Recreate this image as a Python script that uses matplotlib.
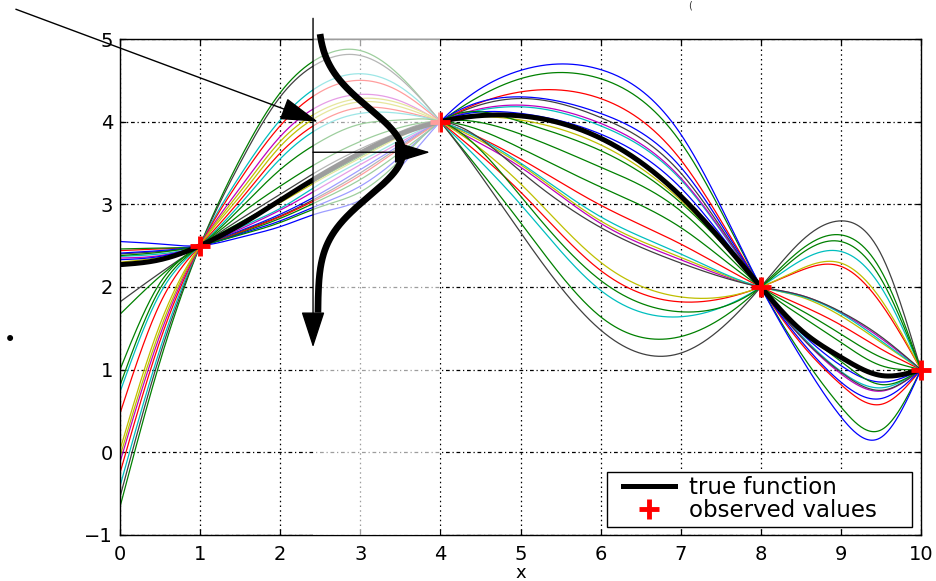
import numpy as np
import matplotlib
matplotlib.use("Agg")
import matplotlib.pyplot as plt
from matplotlib.lines import Line2D
from matplotlib.legend_handler import HandlerLine2D

# ---------------- data ----------------
x_knots = [0, 0.5, 1, 1.5, 2, 2.5, 3, 3.5, 4, 5, 6, 7, 8, 8.5, 9, 9.5, 10]

true_y = [2.27, 2.33, 2.5, 2.75, 3.05, 3.35, 3.62, 3.85, 4.0,
          4.07, 3.8, 3.1, 2.0, 1.48, 1.15, 0.93, 1.0]

obs_x = [1, 4, 8, 10]
obs_y = [2.5, 4.0, 2.0, 1.0]

sample_colors = ['g', 'k', 'c', 'r', 'm', 'y', 'y', 'r', 'c', 'g', 'g', 'k',
                 'g', 'y', 'c', 'm', 'b', 'k', 'r', 'g', 'b', 'g', 'b']

sample_values = [
    [-0.66, 1.10, 2.5, 3.55, 4.35, 4.78, 4.86, 4.55, 4.0, 2.78, 1.64, 1.40, 2.0, 2.45, 2.63, 2.20, 1.0],
    [-0.54, 1.18, 2.5, 3.50, 4.30, 4.72, 4.80, 4.52, 4.0, 2.66, 1.48, 1.20, 2.0, 2.55, 2.80, 2.40, 1.0],
    [-0.41, 1.25, 2.5, 3.35, 4.02, 4.44, 4.58, 4.42, 4.0, 3.00, 1.96, 1.64, 2.0, 2.32, 2.43, 2.00, 1.0],
    [-0.25, 1.35, 2.5, 3.30, 3.95, 4.36, 4.50, 4.36, 4.0, 3.15, 2.20, 1.82, 2.0, 2.20, 2.25, 1.80, 1.0],
    [-0.12, 1.42, 2.5, 3.20, 3.82, 4.20, 4.33, 4.25, 4.0, 3.45, 2.77, 2.33, 2.0, 1.90, 1.69, 1.38, 1.0],
    [-0.05, 1.48, 2.5, 3.15, 3.76, 4.13, 4.28, 4.22, 4.0, 3.25, 2.30, 1.88, 2.0, 2.22, 2.29, 1.85, 1.0],
    [0.03, 1.55, 2.5, 3.10, 3.70, 4.08, 4.24, 4.18, 4.0, 3.48, 2.80, 2.36, 2.0, 1.88, 1.65, 1.33, 1.0],
    [0.47, 1.80, 2.5, 3.05, 3.62, 4.00, 4.17, 4.13, 4.0, 3.55, 2.99, 2.52, 2.0, 1.78, 1.54, 1.25, 1.0],
    [0.73, 1.92, 2.5, 3.00, 3.55, 3.93, 4.10, 4.10, 4.0, 3.50, 2.85, 2.40, 2.0, 1.89, 1.68, 1.35, 1.0],
    [0.81, 1.98, 2.5, 2.95, 3.42, 3.76, 3.97, 4.02, 4.0, 3.10, 2.08, 1.70, 2.0, 2.40, 2.55, 2.10, 1.0],
    [1.00, 2.05, 2.5, 2.88, 3.22, 3.52, 3.76, 3.93, 4.0, 3.68, 3.21, 2.72, 2.0, 1.72, 1.43, 1.15, 1.0],
    [1.82, 2.17, 2.5, 2.82, 3.12, 3.42, 3.67, 3.88, 4.0, 3.40, 2.72, 2.29, 2.0, 1.90, 1.70, 1.40, 1.0],
    [1.67, 2.13, 2.5, 2.78, 3.05, 3.32, 3.58, 3.83, 4.0, 3.85, 3.45, 2.92, 2.0, 1.65, 1.33, 1.05, 1.0],
    [2.30, 2.36, 2.5, 2.76, 3.02, 3.30, 3.56, 3.82, 4.0, 4.02, 3.72, 3.05, 2.0, 1.50, 1.15, 0.92, 1.0],
    [2.37, 2.40, 2.5, 2.72, 2.95, 3.25, 3.52, 3.78, 4.0, 4.18, 3.95, 3.30, 2.0, 1.42, 0.98, 0.78, 1.0],
    [2.35, 2.38, 2.5, 2.70, 2.93, 3.20, 3.48, 3.75, 4.0, 4.20, 3.98, 3.32, 2.0, 1.40, 0.95, 0.74, 1.0],
    [2.33, 2.37, 2.5, 2.68, 2.88, 3.13, 3.42, 3.72, 4.0, 4.10, 3.85, 3.20, 2.0, 1.45, 1.05, 0.85, 1.0],
    [2.40, 2.43, 2.5, 2.67, 2.86, 3.10, 3.38, 3.70, 4.0, 4.28, 4.05, 3.38, 2.0, 1.40, 0.97, 0.75, 1.0],
    [2.44, 2.46, 2.5, 2.66, 2.85, 3.08, 3.35, 3.68, 4.0, 4.36, 4.28, 3.54, 2.0, 1.32, 0.82, 0.58, 1.0],
    [2.46, 2.47, 2.5, 2.65, 2.83, 3.05, 3.30, 3.63, 4.0, 4.52, 4.52, 3.75, 2.0, 1.20, 0.55, 0.27, 1.0],
    [2.41, 2.44, 2.5, 2.64, 2.80, 3.00, 3.22, 3.58, 4.0, 4.30, 4.10, 3.45, 2.0, 1.35, 0.85, 0.65, 1.0],
    [2.38, 2.42, 2.5, 2.63, 2.78, 2.97, 3.15, 3.54, 4.0, 4.00, 3.65, 3.02, 2.0, 1.48, 1.10, 0.82, 1.0],
    [2.55, 2.52, 2.5, 2.60, 2.73, 2.90, 3.05, 3.45, 4.0, 4.62, 4.63, 3.85, 2.0, 1.15, 0.43, 0.18, 1.0],
]

x_ticks = [0, 1, 2, 3, 4, 5, 6, 7, 8, 9, 10]
y_ticks = [-1, 0, 1, 2, 3, 4, 5]

# predictive distribution drawn at the test input
test_x = 2.41
pred_mean = 3.63
pred_sd = 0.53

matlab_colors = {'b': '#0000ff', 'g': '#008000', 'r': '#ff0000', 'c': '#00bfbf',
                 'm': '#bf00bf', 'y': '#bfbf00', 'k': '#404040'}


def natural_spline(xk, yk, xs):
    xk = np.asarray(xk, float)
    yk = np.asarray(yk, float)
    n = len(xk)
    h = np.diff(xk)
    A = np.zeros((n, n))
    r = np.zeros(n)
    A[0, 0] = 1.0
    A[-1, -1] = 1.0
    for i in range(1, n - 1):
        A[i, i - 1] = h[i - 1]
        A[i, i] = 2 * (h[i - 1] + h[i])
        A[i, i + 1] = h[i]
        r[i] = 6 * ((yk[i + 1] - yk[i]) / h[i] - (yk[i] - yk[i - 1]) / h[i - 1])
    M = np.linalg.solve(A, r)
    idx = np.clip(np.searchsorted(xk, xs) - 1, 0, n - 2)
    x0, x1 = xk[idx], xk[idx + 1]
    hh = x1 - x0
    a = (x1 - xs) / hh
    b = (xs - x0) / hh
    return (a * yk[idx] + b * yk[idx + 1]
            + ((a ** 3 - a) * M[idx] + (b ** 3 - b) * M[idx + 1]) * hh ** 2 / 6)


# ---------------- figure ----------------
plt.rcParams['font.family'] = ['DejaVu Sans']
W, H = 937, 581
fig = plt.figure(figsize=(W / 100, H / 100), dpi=100)
ax = fig.add_axes([120 / W, 1 - 535 / H, (921 - 120) / W, (535 - 39) / H])

xs = np.linspace(0, 10, 801)
for col, vals in zip(sample_colors, sample_values):
    ax.plot(xs, natural_spline(x_knots, vals, xs), color=matlab_colors[col],
            lw=0.9, zorder=2)

ax.plot(xs, natural_spline(x_knots, true_y, xs), color='black', lw=3.6,
        zorder=2.3, solid_capstyle='butt')
ax.plot(obs_x, obs_y, linestyle='none', marker='+', color='red',
        markersize=14, markeredgewidth=3.5, zorder=2.6, clip_on=False)

ax.set_xlim(0, 10)
ax.set_ylim(-1, 5)
ax.set_xticks(x_ticks)
ax.set_yticks(y_ticks)
ax.set_xticklabels([str(v) for v in x_ticks])
ax.set_yticklabels(['\u2212' + str(-v) if v < 0 else str(v) for v in y_ticks])
ax.tick_params(direction='in', length=4, width=0.9, top=True, right=True,
               labelsize=14, colors='black')
ax.tick_params(axis='x', pad=7)
ax.tick_params(axis='y', pad=5)
ax.set_axisbelow(True)
ax.xaxis.grid(True, color='black', lw=0.9, linestyle=(0, (1.2, 2.6)))
ax.yaxis.grid(True, color='black', lw=0.9, linestyle=(0, (3.0, 2.2, 1.0, 2.2)))
for sp in ax.spines.values():
    sp.set_color('black')
    sp.set_linewidth(1.0)
ax.set_xlabel('x', fontsize=13, labelpad=0)

# fade region to the right of the test input
ax.axvspan(test_x, 4.0, color='white', alpha=0.62, lw=0, zorder=2.8)

# predictive density drawn sideways
yy = np.linspace(1.69, 5.06, 300)
dens = np.exp(-0.5 * ((yy - pred_mean) / pred_sd) ** 2)
ax.plot(2.47 + 1.06 * dens, yy, color='black', lw=4.8, zorder=5,
        clip_on=False, solid_capstyle='butt')

arrow_kw = dict(arrowstyle='-|>,head_length=2.3,head_width=0.75',
                color='black', lw=1.0, shrinkA=0, shrinkB=0, mutation_scale=10)
ax.annotate('', xy=(test_x, 1.27), xytext=(test_x, 5.25),
            arrowprops=arrow_kw, annotation_clip=False, zorder=6)
ax.annotate('', xy=(3.87, pred_mean), xytext=(test_x, pred_mean),
            arrowprops=dict(arrow_kw, arrowstyle='-|>,head_length=2.3,head_width=0.7'),
            annotation_clip=False, zorder=6)
ax.annotate('', xy=(2.47, 4.0), xytext=(-1.30, 5.36),
            arrowprops=dict(arrow_kw, arrowstyle='-|>,head_length=2.4,head_width=0.72'),
            annotation_clip=False, zorder=6)

# leftover marks at the image edges
fig.text(10 / W, 1 - 340 / H, '\u2022', fontsize=15, ha='center', va='center')
fig.text(690 / W, 1 - 1 / H, '(', fontsize=7, ha='center', va='top', color='#333333')

handles = [Line2D([], [], color='black', lw=3.6),
           Line2D([], [], color='red', marker='+', linestyle='none',
                  markersize=14, markeredgewidth=3.5)]
leg_fs = 16.5
hmap = {handles[0]: HandlerLine2D(xpad=0.5), handles[1]: HandlerLine2D(xpad=0.5)}
leg = ax.legend(handles, ['true function', 'observed values'], loc='lower left',
                bbox_to_anchor=(607 / W, 1 - 527 / H, 305 / W, 55 / H),
                bbox_transform=fig.transFigure, mode='expand',
                handler_map=hmap,
                prop={'size': leg_fs}, frameon=True, fancybox=False, framealpha=1,
                edgecolor='black', handlelength=2.75, handletextpad=0.62,
                borderpad=0.2, labelspacing=0.0, borderaxespad=0)
leg.get_frame().set_linewidth(1.0)
leg.set_zorder(7)

fig.savefig('out.png', dpi=100)
